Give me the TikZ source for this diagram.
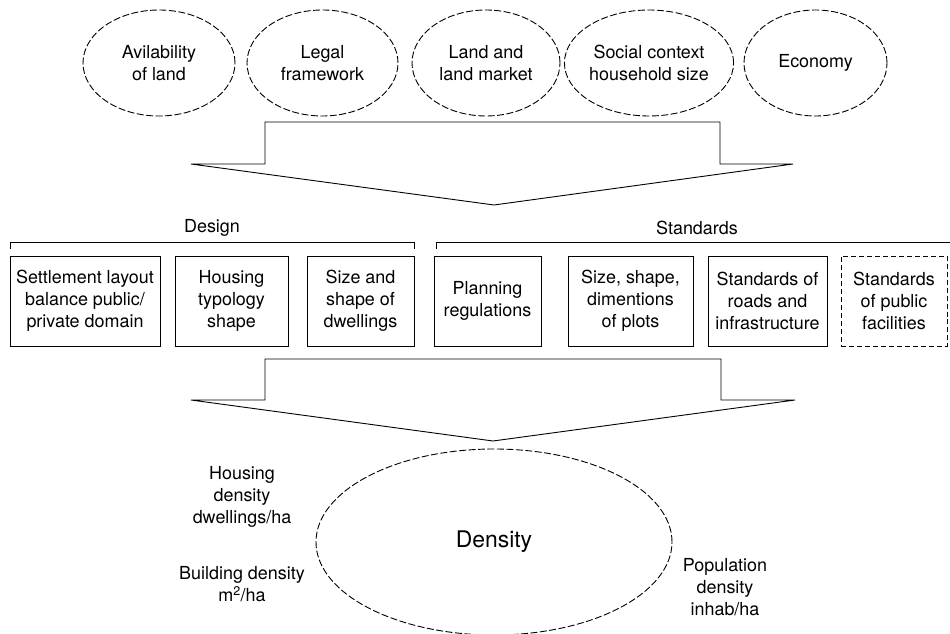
\documentclass[tikz,border=0pt]{standalone}
\usepackage{fontspec}
\setmainfont{TeX Gyre Heros}
\usetikzlibrary{shapes.geometric}
\begin{document}
\begin{tikzpicture}[x=1bp, y=-1bp, line width=0.9bp]
        \tikzstyle{every node}=[font=\fontsize{18}{22}\selectfont, align=center, inner sep=0pt]
        \tikzstyle{factor}=[draw, ellipse, dash pattern=on 7pt off 2.5pt, minimum height=106bp]
        \tikzstyle{item}=[draw, minimum height=90bp]
        \useasboundingbox (0,0) rectangle (950,634);

        % what the layout depends on
        \node (f1) [factor, minimum width=152bp] at (159,63)   {Avilability\\of land};
        \node (f2) [factor, minimum width=151bp] at (322.5,63) {Legal\\framework};
        \node (f3) [factor, minimum width=148bp] at (486,63)   {Land and\\land market};
        \node (f4) [factor, minimum width=148bp] at (649,63)   {Social context\\household size};
        \node (f5) [factor, minimum width=143bp] at (815.5,63) {Economy};

        \draw (265,122) -- (720,122) -- (720,164) -- (793,164) -- (494,205)
              -- (191,164) -- (265,164) -- cycle;

        % design and standards
        \node (design)    at (212,228) {Design};
        \node (standards) at (697,228) {Standards};
        \draw (10,249) |- (414,242) -- (414,249);
        \draw (436,249) |- (950,242);

        \node (d1) [item, minimum width=150bp] at (85,301)    {Settlement layout\\balance public/\\private domain};
        \node (d2) [item, minimum width=113bp] at (231.5,301) {Housing\\typology\\shape};
        \node (d3) [item, minimum width=107bp] at (360.5,301) {Size and\\shape of\\dwellings};
        \node (s1) [item, minimum width=107bp] at (487.5,301) {Planning\\regulations};
        \node (s2) [item, minimum width=125bp] at (630.5,301) {Size, shape,\\dimentions\\of plots};
        \node (s3) [item, minimum width=119bp] at (767.5,301) {Standards of\\roads and\\infrastructure};
        \node (s4) [item, minimum width=106bp, dash pattern=on 5pt off 3pt] at (894,301) {Standards\\of public\\facilities};

        \draw (265,359) -- (721,359) -- (721,400) -- (795,400) -- (493,441)
              -- (191,400) -- (265,400) -- cycle;

        % result
        \node (dens) [draw, ellipse, dash pattern=on 7pt off 2.5pt, minimum width=356bp, minimum height=186bp,
                      font=\fontsize{23}{27}\selectfont] at (494,542) {Density};
        \node (hd) at (242,497) {Housing\\density\\dwellings/ha};
        \node (bd) at (242,584) {Building density\\m\textsuperscript{2}/ha};
        \node (pd) at (725,587) {Population\\density\\inhab/ha};

    \end{tikzpicture}
\end{document}
